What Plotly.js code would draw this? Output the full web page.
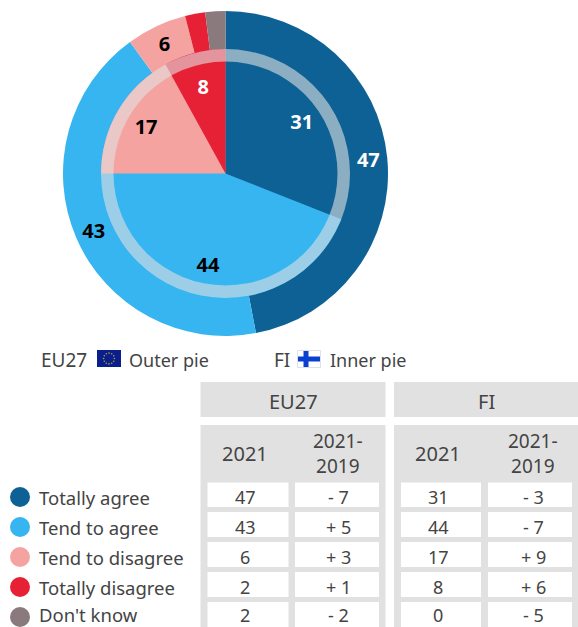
<!DOCTYPE html>
<html><head><meta charset="utf-8">
<script src="https://cdn.plot.ly/plotly-3.0.1.min.js"></script>
<style>html,body{margin:0;padding:0;background:#fff}#c{width:578px;height:627px}</style>
</head><body><div id="c"></div>
<script>
var categories = ["Totally agree","Tend to agree","Tend to disagree","Totally disagree","Don't know"];
var colors = ["#0e6194","#36b5f0","#f5a3a1","#e62136","#8a7a7d"];
var eu2021 = [47,43,6,2,2];
var euDiff = ["- 7","+ 5","+ 3","+ 1","- 2"];
var fi2021 = [31,44,17,8,0];
var fiDiff = ["- 3","- 7","+ 9","+ 6","- 5"];
var outerLabels = ["47","43","6","",""];
var outerLabelColors = ["#fff","#000","#000","#000","#000"];
var innerLabels = ["31","44","17","",""];
var innerLabelColors = ["#fff","#000","#000","#fff","#000"];
var innerLabelsNarrow = ["","","","8",""];
var colHeads = ["2021","2021-<br>2019"];

var W=578,H=627;
var FONT='"Noto Sans", sans-serif', TXT='#444444';
function px(x){return x/W} function py(y){return 1-y/H}
function dom(cx,cy,r){return {x:[px(cx-r),px(cx+r)],y:[py(cy+r),py(cy-r)]}}
var CX=225.5,CY=173.5,RO=162.5,RI=124.5;
var clear=colors.map(function(){return 'rgba(0,0,0,0)'});
function base(o){return Object.assign({type:'pie',sort:false,direction:'clockwise',rotation:0,hoverinfo:'skip',showlegend:false,labels:categories,textinfo:'none',marker:{line:{width:0}}},o)}
function carrier(vals,text,cols,r,hole){return base({values:vals,domain:dom(CX,CY,r),hole:hole,marker:{colors:clear,line:{width:0}},
   textinfo:'text',text:text,textposition:'inside',insidetextorientation:'horizontal',
   insidetextfont:{family:FONT,size:20,color:cols,weight:700}})}
var data=[
 base({values:eu2021,domain:dom(CX,CY,RO),marker:{colors:colors,line:{width:0}}}),
 base({values:fi2021,domain:dom(CX,CY,RI),marker:{colors:colors,line:{width:0}}}),
 base({values:[1],labels:["ring"],domain:dom(CX,CY,RI),hole:112/RI,marker:{colors:['rgba(225,225,225,0.6)'],line:{width:0}}}),
 carrier(eu2021,outerLabels,outerLabelColors,RO,RI/RO),
 carrier(fi2021,innerLabels,innerLabelColors,RI,60/RI),
 carrier(fi2021,innerLabelsNarrow,innerLabelColors,112,48/112)
];
var shapes=[],ann=[];
function rect(x0,y0,x1,y1,c){shapes.push({type:'rect',xref:'paper',yref:'paper',x0:px(x0),x1:px(x1),y0:py(y1),y1:py(y0),fillcolor:c,line:{width:0},layer:'below'})}
function circ(cx,cy,r,c,layer){shapes.push({type:'circle',xref:'paper',yref:'paper',x0:px(cx-r),x1:px(cx+r),y0:py(cy+r),y1:py(cy-r),fillcolor:c,line:{width:0},layer:layer||'below'})}
function txt(x,y,s,size,anchor,va){ann.push({xref:'paper',yref:'paper',x:px(x),y:py(y),text:s,showarrow:false,xanchor:anchor||'center',yanchor:va||'middle',font:{family:FONT,size:size,color:TXT},borderpad:0,borderwidth:0})}
var G='#e1e1e1';
var blocks=[{x0:200.5,x1:385.5,name:'EU27',vals:eu2021,diff:euDiff,c1:[207.5,288.5],c2:[295,379],t1:245,t2:338},
            {x0:394,x1:578,name:'FI',vals:fi2021,diff:fiDiff,c1:[401,481],c2:[488,572],t1:438,t2:533}];
var rowY=[[482.5,507],[512,537],[542,567],[572,597],[602,627]];
var textY=[496.5,526.5,556.5,586.5,627];
var anchorY=['middle','middle','middle','middle','bottom'];
blocks.forEach(function(b){
  rect(b.x0,382,b.x1,417,G); rect(b.x0,425,b.x1,627,G);
  txt((b.x0+b.x1)/2,401,b.name,20);
  txt(b.t1,453,colHeads[0],20);
  txt(b.t2,453,colHeads[1],19);
  rowY.forEach(function(r,i){
    rect(b.c1[0],r[0],b.c1[1],r[1],'#fff'); rect(b.c2[0],r[0],b.c2[1],r[1],'#fff');
    txt(b.t1,textY[i],String(b.vals[i]),18,'center',anchorY[i]);
    txt(b.t2,textY[i],b.diff[i],18,'center',anchorY[i]);
  });
});
var legY=[497,527,557,587,617];
var legTextY=[497,527,557,587,627];
categories.forEach(function(c,i){circ(20,legY[i],10,colors[i]);txt(38.5,legTextY[i],c,18.5,'left',anchorY[i])});
txt(41,360,'EU27',19,'left'); txt(129,360,'Outer pie',18,'left');
txt(274,360,'FI',19,'left'); txt(330,360,'Inner pie',18,'left');
rect(97,350,121,367,'#0b1f8c');
for(var k=0;k<12;k++){var a=k*Math.PI/6;circ(109+5.4*Math.cos(a),358.5+5.4*Math.sin(a),.8,'#a8a040')}
rect(297,350,321,368,'#dfe2ea'); rect(298,351,320,367,'#fff');
rect(298,356.5,320,361.5,'#0b3fd0'); rect(303.5,351,308.5,367,'#0b3fd0');
Plotly.newPlot('c',data,{width:W,height:H,margin:{l:0,r:0,t:0,b:0},paper_bgcolor:'#fff',plot_bgcolor:'#fff',showlegend:false,shapes:shapes,annotations:ann},{displayModeBar:false,staticPlot:true});
</script></body></html>
